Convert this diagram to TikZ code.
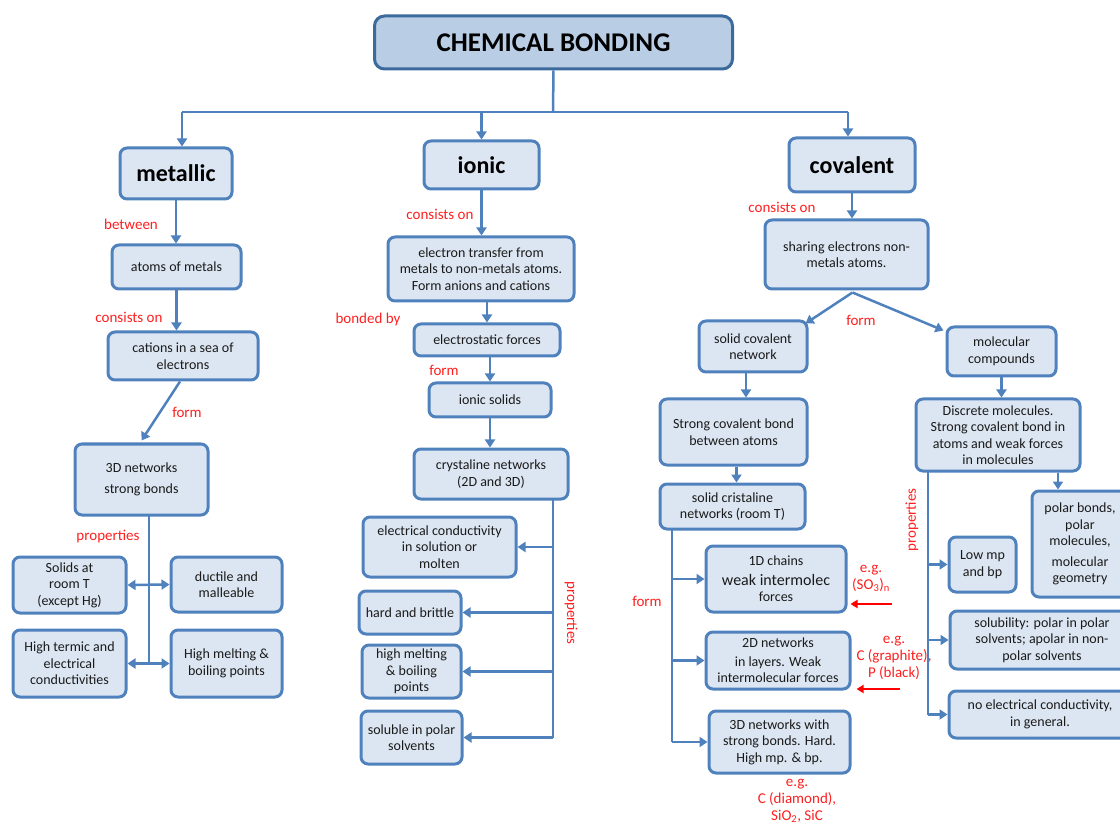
\documentclass[tikz,border=0pt]{standalone}
\usepackage{fontspec}
\setmainfont{Carlito}
\usetikzlibrary{arrows.meta,calc}
\definecolor{bord}{HTML}{4F81BD}
\definecolor{boxfill}{HTML}{DCE6F2}
\definecolor{titlefill}{HTML}{B9CDE5}
\definecolor{titlebord}{HTML}{3C6A9C}
\definecolor{lab}{HTML}{FF1F1F}
\definecolor{txt}{HTML}{1A1A1A}
\begin{document}
\begin{tikzpicture}[x=1pt,y=-1pt,
 box/.style={draw=bord, fill=boxfill, line width=3pt, rounded corners=7pt, align=center,
   font=\fontsize{14}{16.5}\selectfont, inner sep=1pt, text=txt},
 titlebox/.style={draw=titlebord, fill=titlefill, line width=3pt, rounded corners=10pt,
   font=\fontsize{27}{30}\selectfont\bfseries, text=black},
 headbox/.style={box, font=\fontsize{24}{26}\selectfont\bfseries, text=black},
 conn/.style={draw=bord, line width=2.5pt, -{Triangle[length=8pt,width=10pt]}},
 both/.style={draw=bord, line width=2.5pt, {Triangle[length=8pt,width=10pt]}-{Triangle[length=8pt,width=10pt]}},
 trunk/.style={draw=bord, line width=2.5pt},
 lbl/.style={text=lab, font=\fontsize{15}{17}\selectfont, inner sep=0pt, align=center},
 redarrow/.style={draw=red, line width=2.5pt, -{Triangle[length=7pt,width=8pt]}}
]
\useasboundingbox (0,0) rectangle (1120,826);

% title and main branches
\node[titlebox, minimum width=358, minimum height=53] (title) at (553.5,42.5) {CHEMICAL BONDING};
\node[headbox, minimum width=112, minimum height=51] (metallic) at (176,173.5) {metallic};
\node[headbox, minimum width=115, minimum height=48] (ionic) at (481.5,165) {ionic};
\node[headbox, minimum width=126, minimum height=54] (covalent) at (852,165) {covalent};

\coordinate (hub) at (553,112);
\coordinate (hl) at (182,112);
\coordinate (hr) at (848,112);
\draw[trunk] (title.south) -- (hub);
\draw[trunk] (hl) -- (hr);
\draw[conn] (hl) -- (hl |- metallic.north);
\draw[conn] (hub -| ionic.north) -- (ionic.north);
\draw[conn] (hr) -- (hr |- covalent.north);

% metallic column
\node[box, minimum width=129, minimum height=44] (atoms) at (176.5,267) {atoms of metals};
\node[box, minimum width=150, minimum height=48] (cations) at (183,356) {cations in a sea of\\electrons};
\node[box, minimum width=133, minimum height=71] (net3D) at (141.5,479.5) {3D networks\\[5pt]strong bonds};
\node[box, minimum width=113, minimum height=56] (solids) at (69.5,585) {Solids at\\room T\\(except Hg)};
\node[box, minimum width=111, minimum height=55] (ductile) at (226.5,584.5) {ductile and\\malleable};
\node[box, minimum width=113, minimum height=67] (termic) at (69.5,663.5) {High termic and\\electrical\\conductivities};
\node[box, minimum width=111, minimum height=67] (highmelt) at (226.5,663.5) {High melting \&\\boiling points};

\draw[conn] (metallic.south) -- (metallic.south |- atoms.north);
\draw[conn] (atoms.south) -- (atoms.south |- cations.north);
\draw[conn] ($(cations.south)+(-3,0)$) -- ($(net3D.north)+(0,-2)$);
\coordinate (mtop) at (149,516);
\draw[trunk] (mtop) -- (mtop |- termic.east);
\draw[both] (solids.east) -- (ductile.west);
\draw[both] (termic.east) -- (highmelt.west);

\node[lbl] (l1) at (131,224) {between};
\node[lbl] (l2) at (129,317) {consists on};
\node[lbl] (l3) at (187,412) {form};
\node[lbl] (l4) at (108,537) {properties};

% ionic column
\node[box, minimum width=186, minimum height=64] (etransfer) at (481,269) {electron transfer from\\metals to non-metals atoms.\\Form anions and cations};
\node[box, minimum width=146, minimum height=32] (electrostatic) at (487,340) {electrostatic forces};
\node[box, minimum width=122, minimum height=34] (ionicsolids) at (490,400) {ionic solids};
\node[box, minimum width=154, minimum height=50] (crystaline) at (491,474) {crystaline networks\\(2D and 3D)};
\node[box, minimum width=153, minimum height=60] (elcond) at (439.5,547) {electrical conductivity\\in solution or\\molten};
\node[box, minimum width=102, minimum height=43] (hard) at (410,612.5) {hard and brittle};
\node[box, minimum width=99, minimum height=53] (himelt) at (411.5,671.5) {high melting\\\& boiling\\points};
\node[box, minimum width=101, minimum height=53] (soluble) at (411.5,737.5) {soluble in polar\\solvents};

\draw[conn] (ionic.south) -- (ionic.south |- etransfer.north);
\draw[conn] (electrostatic.north |- etransfer.south) -- (electrostatic.north);
\draw[conn] (ionicsolids.north |- electrostatic.south) -- (ionicsolids.north);
\draw[conn] (ionicsolids.south) -- (ionicsolids.south |- crystaline.north);
\coordinate (itop) at (553,500);
\draw[trunk] (itop) -- (itop |- soluble.east);
\draw[conn] (itop |- elcond.east) -- (elcond.east);
\draw[conn] (itop |- hard.east) -- (hard.east);
\draw[conn] (itop |- himelt.east) -- (himelt.east);
\draw[conn] (itop |- soluble.east) -- (soluble.east);

\node[lbl] (l5) at (440,214) {consists on};
\node[lbl] (l6) at (368,320) {bonded by};
\node[lbl] (l7) at (444,370) {form};
\node[lbl, rotate=-90] (l8) at (571,613) {properties};

% covalent column
\node[box, minimum width=163, minimum height=69] (sharing) at (846.5,254.5) {sharing electrons non-\\metals atoms.};
\node[box, minimum width=108, minimum height=51] (scn) at (753,346.5) {solid covalent\\network};
\node[box, minimum width=147, minimum height=66] (strong) at (733.5,432) {Strong covalent bond\\between atoms};
\node[box, minimum width=145, minimum height=45] (scrist) at (732.5,506.5) {solid cristaline\\networks (room T)};
\node[box, minimum width=140, minimum height=66] (oneD) at (776,579) {1D chains\\[3pt]{\fontsize{16}{17}\selectfont weak intermolec}\\forces};
\node[box, minimum width=144, minimum height=57] (twoD) at (778,660.5) {2D networks\\[2pt]in layers. Weak\\intermolecular forces};
\node[box, minimum width=141, minimum height=62] (threeD) at (779.5,742) {3D networks with\\strong bonds. Hard.\\High mp. \& bp.};
\node[box, minimum width=109, minimum height=49] (molcomp) at (1001.5,351.5) {molecular\\compounds};

\draw[conn] (covalent.south) -- (covalent.south |- sharing.north);
\draw[conn] ($(sharing.south)+(6,2)$) -- ($(scn.north east)+(-3,4)$);
\draw[conn] ($(sharing.south)+(6,2)$) -- ($(molcomp.north west)+(-2,5)$);
\draw[conn] ($(scn.south)+(-7,0)$) -- ($(scn.south |- strong.north)+(-7,0)$);
\draw[conn] ($(strong.south)+(3,0)$) -- ($(strong.south |- scrist.north)+(3,0)$);
\coordinate (ctop) at (672,530);
\draw[trunk] (ctop) -- (ctop |- threeD.west);
\draw[conn] (ctop |- oneD.west) -- (oneD.west);
\draw[conn] (ctop |- twoD.west) -- (twoD.west);
\draw[conn] (ctop |- threeD.west) -- (threeD.west);

\node[lbl] (l9) at (782,207) {consists on};
\node[lbl] (l10) at (861,320) {form};
\node[lbl] (l11) at (647,601) {form};

\node[lbl] (eg1) at (871,578) {e.g.\\(SO\textsubscript{3})\textsubscript{n}};
\coordinate (r1) at (892,604);
\draw[redarrow] (r1) -- ($(r1 -| oneD.east)+(3,0)$);
\node[lbl] (eg2) at (894,658) {e.g.\\C (graphite),\\P (black)};
\coordinate (r2) at (900,689);
\draw[redarrow] (r2) -- ($(r2 -| twoD.east)+(5,0)$);
\node[lbl] (eg3) at (797,801) {e.g.\\C (diamond),\\SiO\textsubscript{2}, SiC};

% molecular branch
\node[box, minimum width=164, minimum height=72] (discrete) at (998,435) {Discrete molecules.\\Strong covalent bond in\\atoms and weak forces\\in molecules};
\node[box, minimum width=96, minimum height=106] (polar) at (1080,544) {polar bonds,\\polar\\molecules,\\[4pt]molecular\\geometry};
\node[box, minimum width=67, minimum height=55] (lowmp) at (982.5,564.5) {Low mp\\and bp};
\node[box, minimum width=184, minimum height=58] (solub) at (1042,640) {solubility: polar in polar\\solvents; apolar in non-\\polar solvents};
\node[box, minimum width=182, minimum height=47] (noelec) at (1040,714.5) {no electrical conductivity,\\in general.};

\draw[conn] (molcomp.south) -- (molcomp.south |- discrete.north);
\draw[conn] ($(discrete.south)+(60,0)$) -- ($(discrete.south |- polar.north)+(60,0)$);
\coordinate (mtop2) at (928,472);
\draw[trunk] (mtop2) -- (mtop2 |- noelec.west);
\draw[conn] (mtop2 |- lowmp.west) -- (lowmp.west);
\draw[conn] (mtop2 |- solub.west) -- (solub.west);
\draw[conn] (mtop2 |- noelec.west) -- (noelec.west);
\node[lbl, rotate=90] (l12) at (912,520) {properties};
\end{tikzpicture}
\end{document}
